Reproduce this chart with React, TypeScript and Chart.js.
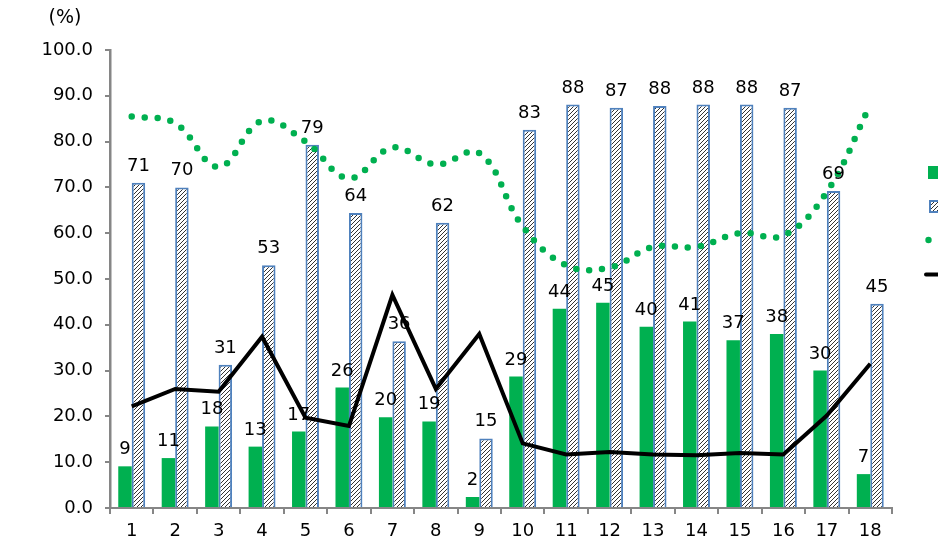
import React, { useEffect, useRef } from 'react';
import { Chart, registerables } from 'chart.js';

Chart.register(...registerables);

const categories = ['1', '2', '3', '4', '5', '6', '7', '8', '9', '10', '11', '12', '13', '14', '15', '16', '17', '18'];
const greenBars = [9.1, 10.9, 17.8, 13.4, 16.7, 26.3, 19.8, 18.9, 2.4, 28.7, 43.5, 44.8, 39.6, 40.7, 36.6, 38.0, 30.0, 7.4];
const hatchedBars = [71, 70, 31.3, 53, 79.3, 64.4, 36.4, 62.3, 15.2, 82.6, 88.1, 87.4, 87.8, 88.1, 88.1, 87.4, 69.2, 44.6];
const dottedLine = [85.5, 84, 74.5, 84.5, 80, 72, 78.7, 75, 77.5, 61.5, 53, 52.5, 57, 57, 60, 59.5, 69, 88];
const blackLine = [22.2, 26, 25.4, 37.4, 19.7, 17.9, 46.5, 26, 38, 14.1, 11.7, 12.2, 11.7, 11.5, 12, 11.7, 20.2, 31.5];
const yTicks = [0, 10, 20, 30, 40, 50, 60, 70, 80, 90, 100];
const unitLabel = '(%)';

const GREEN = '#00B050';
const BLUE = '#4F81BD';
const AXIS = '#868686';
const FONT = '"DejaVu Sans", Verdana, sans-serif';

function makeHatch(): CanvasPattern | string {
  const c = document.createElement('canvas');
  c.width = 4;
  c.height = 4;
  const g = c.getContext('2d');
  if (!g) return '#ffffff';
  g.fillStyle = '#ffffff';
  g.fillRect(0, 0, 4, 4);
  g.strokeStyle = '#333333';
  g.lineWidth = 1.0;
  g.beginPath();
  g.moveTo(0, 4);
  g.lineTo(4, 0);
  g.moveTo(-1, 1);
  g.lineTo(1, -1);
  g.moveTo(3, 5);
  g.lineTo(5, 3);
  g.stroke();
  const p = g.createPattern(c, 'repeat');
  return p || '#ffffff';
}

export default function App() {
  const ref = useRef<HTMLCanvasElement | null>(null);

  useEffect(() => {
    const canvas = ref.current;
    if (!canvas) return;
    const hatch = makeHatch();

    const labelPlugin = {
      id: 'barLabels',
      afterDatasetsDraw(chart: any) {
        const ctx = chart.ctx;
        ctx.save();
        ctx.font = `18px ${FONT}`;
        ctx.fillStyle = '#000000';
        ctx.textAlign = 'center';
        ctx.textBaseline = 'alphabetic';
        [0, 1].forEach((di) => {
          const meta = chart.getDatasetMeta(di);
          const data = chart.data.datasets[di].data as number[];
          meta.data.forEach((el: any, i: number) => {
            ctx.fillText(String(Math.round(data[i])), el.x, el.y - 12);
          });
        });
        ctx.restore();
      },
      afterDraw(chart: any) {
        const ctx = chart.ctx;
        const area = chart.chartArea;
        ctx.save();
        ctx.font = `19px ${FONT}`;
        ctx.fillStyle = '#000000';
        ctx.textAlign = 'center';
        ctx.textBaseline = 'middle';
        ctx.fillText(unitLabel, 65, 18);
        // legend markers (labels are cut off at right edge)
        const lx = area.right + 36;
        ctx.fillStyle = GREEN;
        ctx.fillRect(lx, 166, 13, 13);
        ctx.fillStyle = hatch as any;
        ctx.fillRect(lx + 1, 200, 12, 13);
        ctx.strokeStyle = BLUE;
        ctx.lineWidth = 2;
        ctx.strokeRect(lx + 2, 201, 11, 11);
        ctx.fillStyle = GREEN;
        ctx.beginPath();
        ctx.arc(lx + 0.5, 240, 3.2, 0, Math.PI * 2);
        ctx.fill();
        ctx.strokeStyle = '#000000';
        ctx.lineWidth = 4;
        ctx.lineCap = 'round';
        ctx.beginPath();
        ctx.moveTo(lx - 2, 274.5);
        ctx.lineTo(lx + 14, 274.5);
        ctx.stroke();
        ctx.restore();
      },
    };

    const chart = new Chart(canvas, {
      type: 'bar',
      data: {
        labels: categories,
        datasets: [
          {
            type: 'bar',
            data: greenBars,
            backgroundColor: GREEN,
            borderWidth: 0,
            order: 3,
          },
          {
            type: 'bar',
            data: hatchedBars,
            backgroundColor: hatch as any,
            borderColor: BLUE,
            borderWidth: 2,
            order: 3,
          },
          {
            type: 'line',
            data: dottedLine,
            borderColor: GREEN,
            borderWidth: 6.5,
            borderDash: [0, 13],
            borderCapStyle: 'round',
            pointRadius: 0,
            tension: 0.4,
            fill: false,
            order: 1,
          },
          {
            type: 'line',
            data: blackLine,
            borderColor: '#000000',
            borderWidth: 4,
            borderJoinStyle: 'miter',
            pointRadius: 0,
            tension: 0,
            fill: false,
            order: 0,
          },
        ] as any,
      },
      options: {
        responsive: false,
        animation: false,
        layout: { padding: { top: 50, right: 46, left: 0, bottom: 0 } },
        plugins: {
          legend: { display: false },
          tooltip: { enabled: false },
        },
        datasets: {
          bar: { categoryPercentage: 0.62, barPercentage: 1 },
        },
        scales: {
          x: {
            type: 'category',
            offset: true,
            grid: {
              display: true,
              drawOnChartArea: false,
              offset: true,
              tickLength: 6,
              color: AXIS,
              lineWidth: 2,
            },
            border: { display: true, color: AXIS, width: 2 },
            ticks: {
              color: '#000000',
              font: { family: FONT, size: 18 },
              padding: 7,
              maxRotation: 0,
              autoSkip: false,
            },
            afterFit(scale: any) {
              scale.height = 45;
            },
          },
          y: {
            min: 0,
            max: 100,
            afterBuildTicks(scale: any) {
              scale.ticks = yTicks.map((v) => ({ value: v }));
            },
            grid: {
              display: true,
              drawOnChartArea: false,
              tickLength: 5,
              color: AXIS,
              lineWidth: 2,
            },
            border: { display: true, color: AXIS, width: 2.5 },
            ticks: {
              color: '#000000',
              font: { family: FONT, size: 18 },
              padding: 12,
              callback: (v: any) => Number(v).toFixed(1),
            },
            afterFit(scale: any) {
              scale.width = 110;
            },
          },
        },
      } as any,
      plugins: [labelPlugin],
    });

    return () => chart.destroy();
  }, []);

  return (
    <div style={{ position: 'absolute', left: 0, top: 0, width: 938, height: 553, background: '#ffffff' }}>
      <canvas ref={ref} width={938} height={553} style={{ display: 'block' }} />
    </div>
  );
}
